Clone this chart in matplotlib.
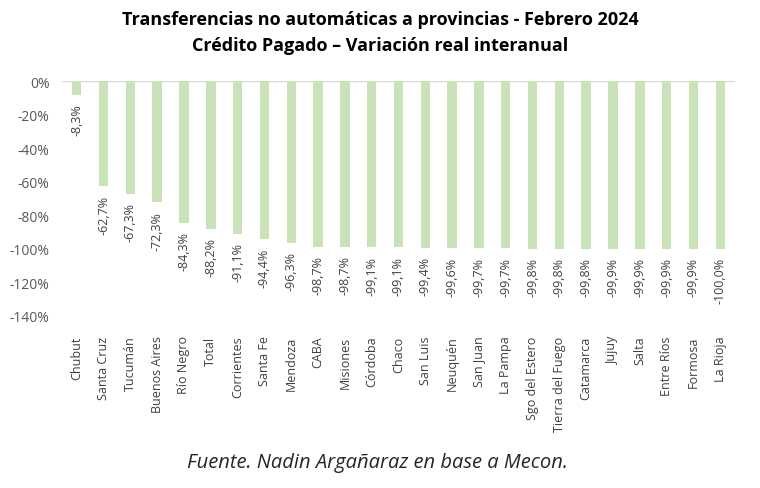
import matplotlib.pyplot as plt

provincias = ['Chubut', 'Santa Cruz', 'Tucumán', 'Buenos Aires', 'Río Negro', 'Total',
              'Corrientes', 'Santa Fe', 'Mendoza', 'CABA', 'Misiones', 'Córdoba', 'Chaco',
              'San Luis', 'Neuquén', 'San Juan', 'La Pampa', 'Sgo del Estero',
              'Tierra del Fuego', 'Catamarca', 'Jujuy', 'Salta', 'Entre Ríos', 'Formosa',
              'La Rioja']
variacion = [-8.3, -62.7, -67.3, -72.3, -84.3, -88.2, -91.1, -94.4, -96.3, -98.7, -98.7,
             -99.1, -99.1, -99.4, -99.6, -99.7, -99.7, -99.8, -99.8, -99.8, -99.9, -99.9,
             -99.9, -99.9, -100.0]
yticks = [0, -20, -40, -60, -80, -100, -120, -140]

plt.rcParams['font.family'] = ['Open Sans', 'DejaVu Sans']

fig = plt.figure(figsize=(7.6, 4.89), dpi=100)
ax = fig.add_axes([62 / 760, 1 - 317 / 489, (735 - 62) / 760, (317 - 82) / 489])

x = range(len(provincias))
ax.bar(x, variacion, width=0.35, color='#C9E2B8', zorder=2)

for xi, v in zip(x, variacion):
    txt = f'{v:.1f}%'.replace('.', ',')
    ax.annotate(txt, (xi, v), xytext=(0, -6), textcoords='offset points',
                rotation=90, ha='center', va='top', fontsize=9, color='#404040')

ax.set_ylim(-140, 0)
ax.set_xlim(-0.55, len(provincias) - 0.45)
ax.set_yticks(yticks)
ax.set_yticklabels([f'{t}%' for t in yticks], fontsize=10, color='#595959')
ax.set_xticks(list(x))
ax.set_xticklabels(provincias, rotation=90, fontsize=9, color='#404040')
ax.tick_params(length=0, axis='both')
ax.tick_params(axis='x', pad=14)
ax.tick_params(axis='y', pad=9)
ax.axhline(0, color='#D9D9D9', lw=1, zorder=1)
for s in ax.spines.values():
    s.set_visible(False)

fig.text(0.5, 1 - 20 / 489, 'Transferencias no automáticas a provincias - Febrero 2024',
         ha='center', va='center', fontsize=13, fontweight='bold', color='#000000')
fig.text(0.5, 1 - 46 / 489, 'Crédito Pagado – Variación real interanual',
         ha='center', va='center', fontsize=13, fontweight='bold', color='#000000')
fig.text(0.497, 1 - 463 / 489, 'Fuente. Nadin Argañaraz en base a Mecon.',
         ha='center', va='center', fontsize=14.5, style='italic', color='#262626')

fig.savefig('out.png', dpi=100)
